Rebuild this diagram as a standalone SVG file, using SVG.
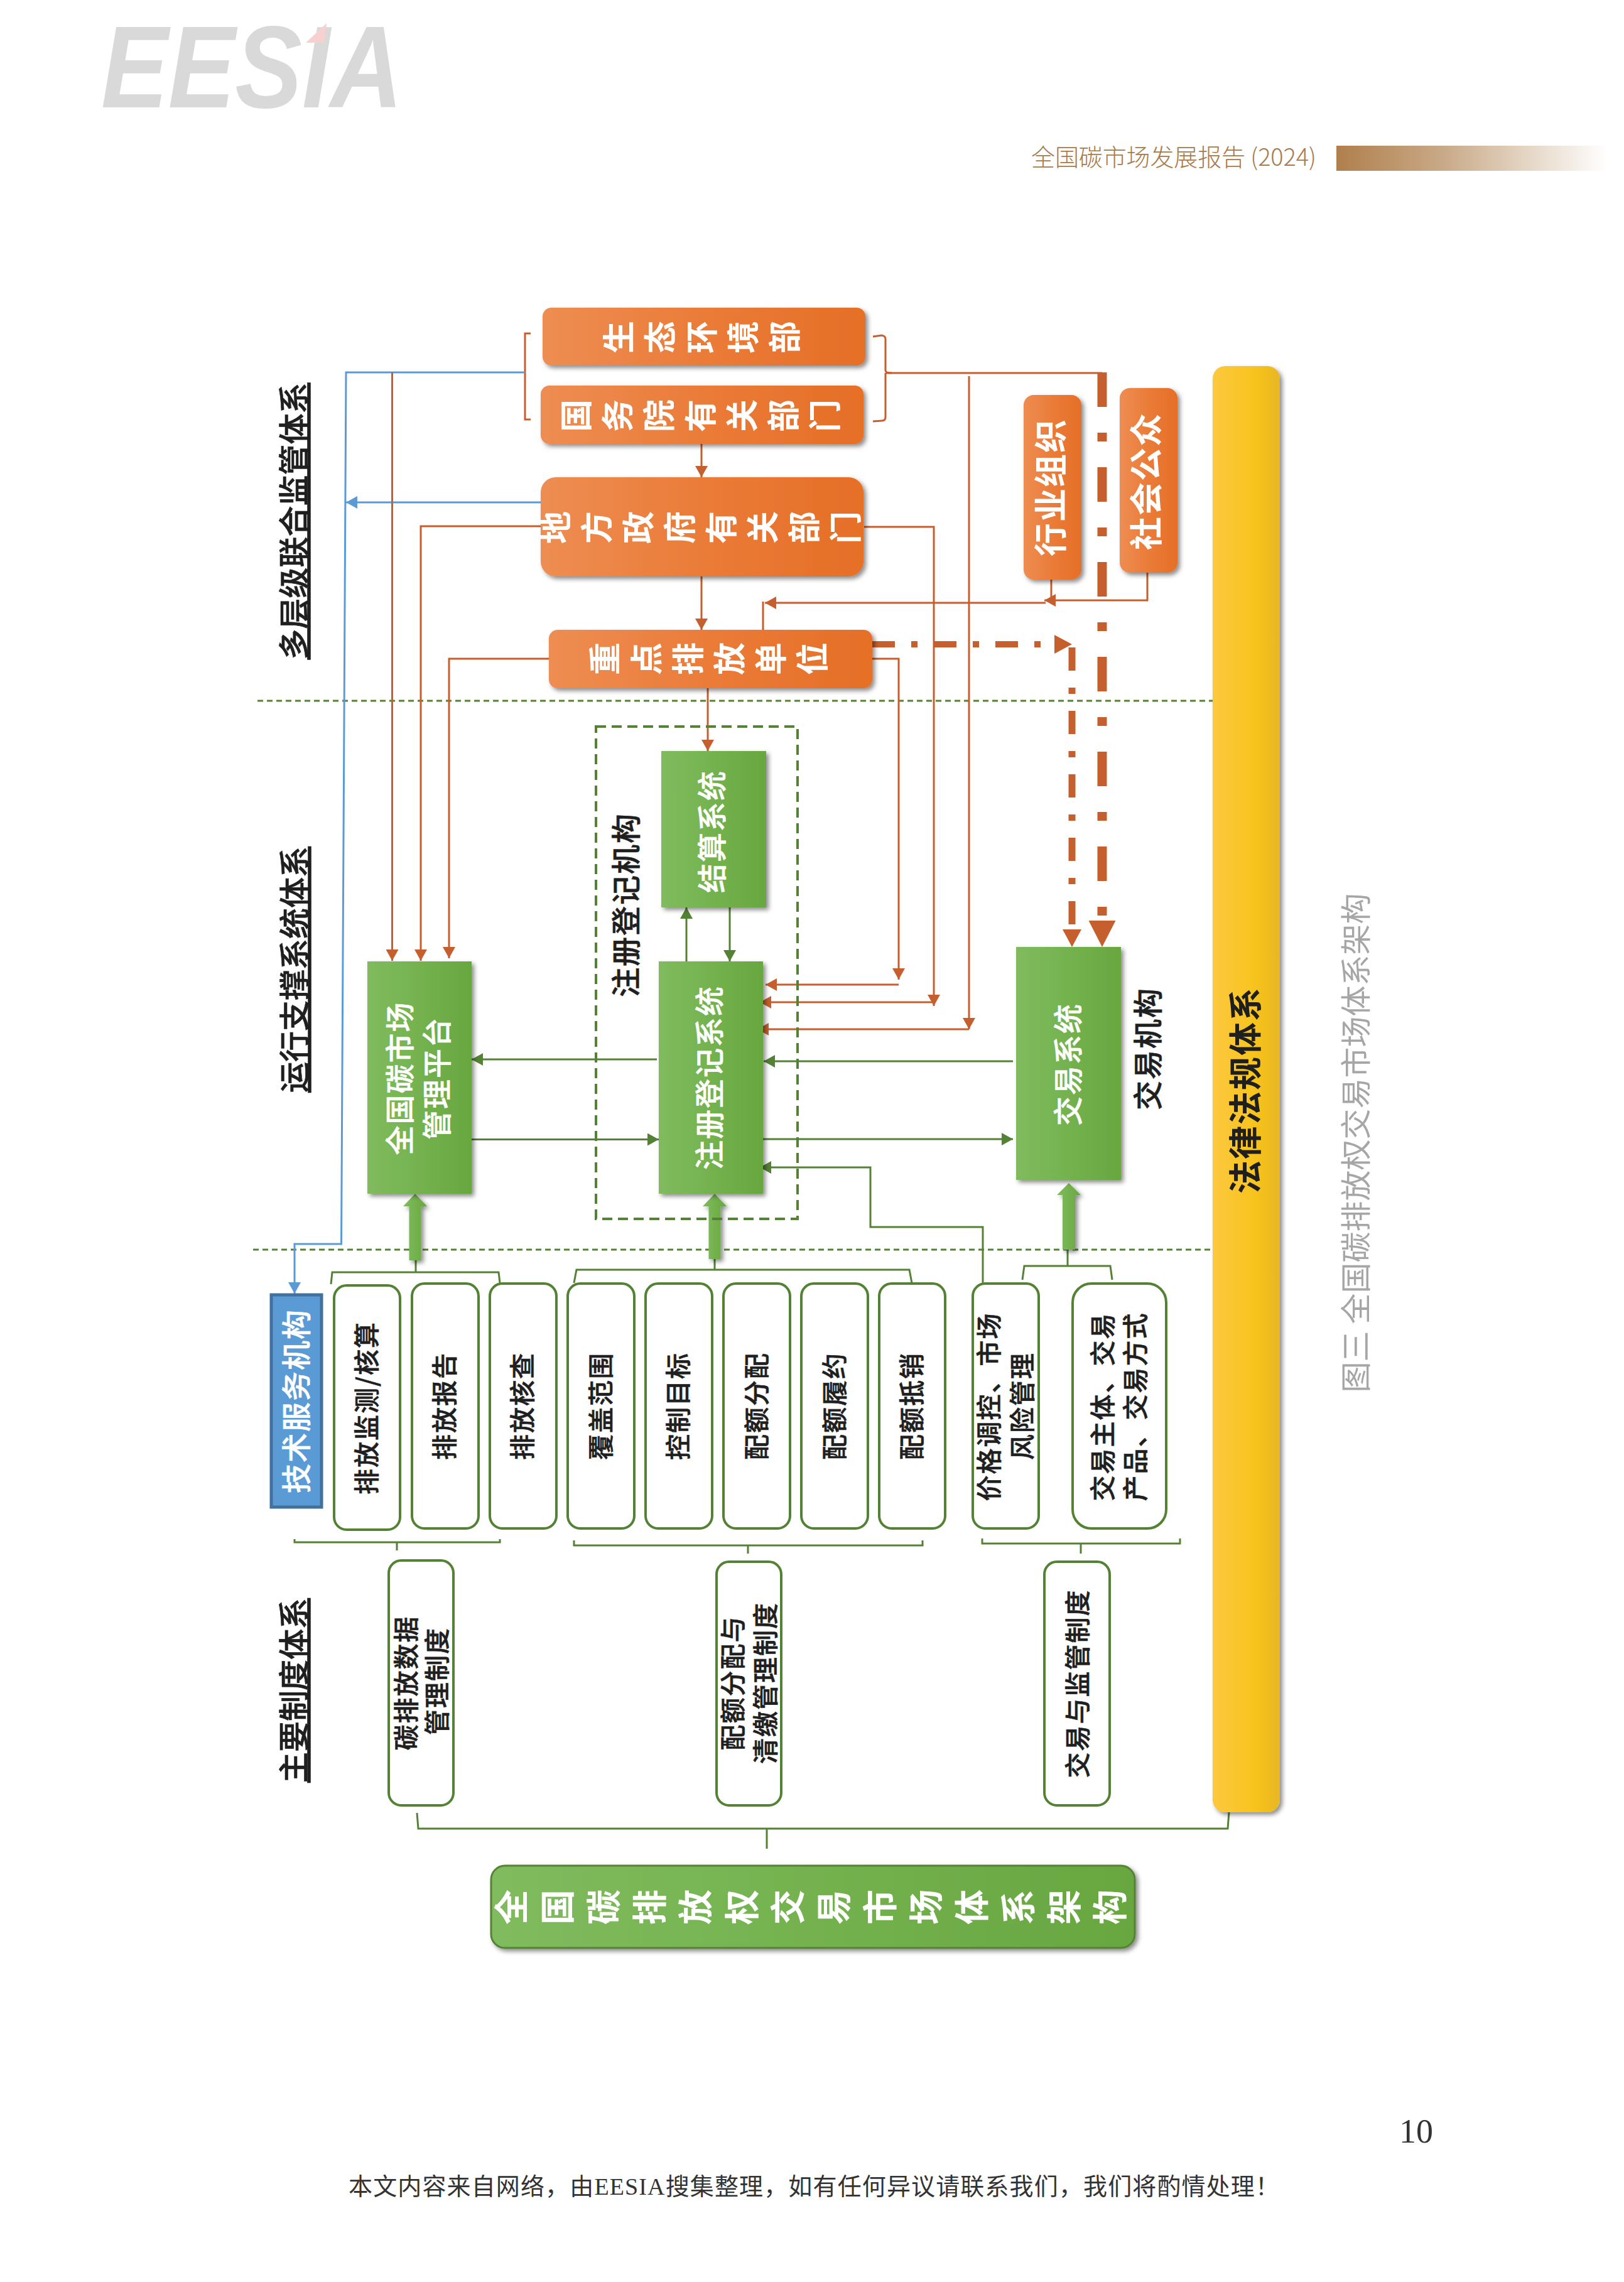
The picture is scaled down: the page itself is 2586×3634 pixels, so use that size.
<svg xmlns="http://www.w3.org/2000/svg" width="2586" height="3634" viewBox="0 0 2586 3634">
<style>
text{font-family:"Noto Sans CJK SC","Noto Sans",sans-serif}
.v{text-anchor:middle;dominant-baseline:central}
.h{font-size:49px;font-weight:500;text-decoration:underline;fill:#1f1f1f;stroke:#1f1f1f;stroke-width:.6px}
.o1{font-size:52px;font-weight:700;fill:#fff}
.o2{font-size:53px;font-weight:700;fill:#fff;letter-spacing:2px}
.g1{font-size:47px;font-weight:500;fill:#fff;letter-spacing:2px;stroke:#fff;stroke-width:.5px}
.b1{font-size:41px;font-weight:500;fill:#1f1f1f;letter-spacing:2px;stroke:#1f1f1f;stroke-width:.6px}
.l1{font-size:47px;font-weight:500;fill:#1f1f1f;letter-spacing:2px;stroke:#1f1f1f;stroke-width:.6px}
.or{fill:url(#gOrange);filter:url(#sh)}
.gr{fill:url(#gGreen);filter:url(#sh)}
.bx{fill:#fff;stroke:#548235;stroke-width:4}
.co{fill:none;stroke:#c55f2d;stroke-width:3}
.cg{fill:none;stroke:#548235;stroke-width:3}
.cb{fill:none;stroke:#5b9bd5;stroke-width:3}
.sep{fill:none;stroke:#548235;stroke-width:3;stroke-dasharray:9 6}
.tk{fill:url(#gGreen);filter:url(#sh)}
</style>
<defs>
<linearGradient id="gOrange" x1="0" y1="0" x2="1" y2="0"><stop offset="0" stop-color="#ee8d52"/><stop offset="0.55" stop-color="#ea7a36"/><stop offset="1" stop-color="#e56f27"/></linearGradient>
<linearGradient id="gGreen" x1="0" y1="0" x2="1" y2="0"><stop offset="0" stop-color="#80bb5e"/><stop offset="0.5" stop-color="#74b24f"/><stop offset="1" stop-color="#68a640"/></linearGradient>
<linearGradient id="gYellow" x1="0" y1="0" x2="1" y2="0"><stop offset="0" stop-color="#fcc83f"/><stop offset="0.6" stop-color="#f8c41f"/><stop offset="1" stop-color="#e8b720"/></linearGradient>
<linearGradient id="gBar" x1="0" y1="0" x2="1" y2="0"><stop offset="0" stop-color="#b07f4d"/><stop offset="0.4" stop-color="#c9aa88"/><stop offset="1" stop-color="#ffffff"/></linearGradient>
<filter id="sh" x="-30%" y="-10%" width="160%" height="125%"><feDropShadow dx="4" dy="4" stdDeviation="3.5" flood-color="#000" flood-opacity="0.45"/></filter>
<marker id="aO" markerUnits="userSpaceOnUse" viewBox="0 0 18 20" markerWidth="18" markerHeight="20" refX="18" refY="10" orient="auto"><path d="M0 0L18 10L0 20Z" fill="#c55f2d"/></marker>
<marker id="aG" markerUnits="userSpaceOnUse" viewBox="0 0 18 20" markerWidth="18" markerHeight="20" refX="18" refY="10" orient="auto"><path d="M0 0L18 10L0 20Z" fill="#548235"/></marker>
<marker id="aB" markerUnits="userSpaceOnUse" viewBox="0 0 18 20" markerWidth="18" markerHeight="20" refX="18" refY="10" orient="auto"><path d="M0 0L18 10L0 20Z" fill="#5b9bd5"/></marker>
<marker id="aBig" markerUnits="userSpaceOnUse" viewBox="0 0 42 43" markerWidth="42" markerHeight="43" refX="0" refY="21.5" orient="auto"><path d="M0 0L42 21.5L0 43Z" fill="#c55f2d"/></marker>
<marker id="aMid" markerUnits="userSpaceOnUse" viewBox="0 0 28 30" markerWidth="28" markerHeight="30" refX="0" refY="15" orient="auto"><path d="M0 0L28 15L0 30Z" fill="#c55f2d"/></marker>
</defs>
<rect width="2586" height="3634" fill="#fff"/>

<g id="header">
<text x="161" y="171" font-size="186" font-weight="700" font-style="italic" textLength="480" lengthAdjust="spacingAndGlyphs" style="font-family:'Liberation Sans',sans-serif" fill="#d9d9d9">EESIA</text>
<path d="M520 37L516 68L487 68Z" fill="#f8d0d0"/>
<text x="1642" y="264" font-size="38" textLength="454" fill="#a9794a" font-weight="300">全国碳市场发展报告 (2024)</text>
<rect x="2128" y="232" width="430" height="40" fill="url(#gBar)"/>
</g>

<g id="connectors">
<path class="sep" d="M410 1116H1931"/>
<path class="sep" d="M403 1990H1927"/>
<path class="co" d="M845 531H836V668H845"/>
<path class="co" d="M1390 536L1404 534Q1410 535 1410 540V590Q1410 594 1420 594M1410 594Q1410 598 1410 602V664Q1410 670 1404 670L1390 671"/>
<path class="cb" d="M836 593H551L543.500 1981H469V2060" marker-end="url(#aB)"/>
<path class="cb" d="M861 800H551" marker-end="url(#aB)"/>
<path class="co" d="M624.500 593V1530" marker-end="url(#aO)"/>
<path class="co" d="M861 838H670V1530" marker-end="url(#aO)"/>
<path class="co" d="M874 1049H715V1526" marker-end="url(#aO)"/>
<path class="co" d="M1117 707V760" marker-end="url(#aO)"/>
<path class="co" d="M1117 918V1003" marker-end="url(#aO)"/>
<path class="co" d="M1127 1096V1196" marker-end="url(#aO)"/>
<path class="co" d="M1215 958V1028" marker-end="url(#aO)"/>
<path class="co" d="M1665 960H1218" marker-end="url(#aO)"/>
<path class="co" d="M1827 912V956H1663" marker-end="url(#aO)"/>
<path class="co" d="M1674 922V956"/>
<path class="co" d="M1389 1049H1431V1560" marker-end="url(#aO)"/>
<path class="co" d="M1431 1568H1219" marker-end="url(#aO)"/>
<path class="co" d="M1376 839H1487V1602" marker-end="url(#aO)"/>
<path class="co" d="M1487 1596H1210" marker-end="url(#aO)"/>
<path class="co" d="M1410 594H1755"/>
<path class="co" d="M1543 599V1639" marker-end="url(#aO)"/>
<path class="co" d="M1543 1639H1206" marker-end="url(#aO)"/>
<path fill="none" stroke="#c55f2d" stroke-width="15" stroke-dasharray="55 41 14 41" d="M1755 593V1466" marker-end="url(#aBig)"/>
<path fill="none" stroke="#c55f2d" stroke-width="10" stroke-dasharray="36 26 10 26" d="M1389 1026H1679" marker-end="url(#aMid)"/>
<path fill="none" stroke="#c55f2d" stroke-width="11" stroke-dasharray="37 27 10 27" d="M1707 1031V1480" marker-end="url(#aMid)"/>
<path class="cg" d="M1093 1531V1445" marker-end="url(#aG)"/>
<path class="cg" d="M1162 1445V1531" marker-end="url(#aG)"/>
<path class="cg" d="M1046 1687H751" marker-end="url(#aG)"/>
<path class="cg" d="M751 1814.500H1049" marker-end="url(#aG)"/>
<path class="cg" d="M1613 1690H1216" marker-end="url(#aG)"/>
<path class="cg" d="M1215 1814H1613" marker-end="url(#aG)"/>
<path class="cg" d="M1565 2043V1954H1386V1859H1210" marker-end="url(#aG)"/>
<path class="cg" d="M527 2045L529 2026H794L796 2043M662 2026V2007"/>
<path class="cg" d="M914 2043L918 2022H1448L1452 2043M1138 2022V2000"/>
<path class="cg" d="M1628 2038L1631 2016H1768L1771 2038M1700 2016V1990"/>
<path class="cg" d="M469 2451V2456H796V2451M632 2456V2469"/>
<path class="cg" d="M914 2453V2461H1469V2453M1191 2461V2474"/>
<path class="cg" d="M1564 2450V2458H1879V2450M1721 2458V2474"/>
<path class="cg" d="M664 2887L666 2912H1955L1957 2886M1221 2912V2944"/>
<path class="tk" d="M661 1901L680 1921H670.500V2007H651.500V1921H642Z"/>
<path class="tk" d="M1138 1901L1157 1921H1147.500V2005H1128.500V1921H1119Z"/>
<path class="tk" d="M1702 1884L1721 1903H1712V1990H1692V1903H1683Z"/>
</g>

<g id="node-mee"><rect class="or" x="864" y="490" width="514" height="92" rx="14"/><text class="o1" x="1005 1071 1137 1203 1269" y="563" rotate="-90">生态环境部</text></g>
<g id="node-state"><rect class="or" x="861" y="614" width="514" height="93" rx="14"/><text class="o1" x="937 1003 1069 1135 1201 1267 1333" y="688" rotate="-90">国务院有关部门</text></g>
<g id="node-local"><rect class="or" x="861" y="760" width="514" height="158" rx="24"/><text class="o1" x="904 970 1036 1102 1168 1234 1300 1366" y="866" rotate="-90">地方政府有关部门</text></g>
<g id="node-key"><rect class="or" x="874" y="1003" width="515" height="93" rx="14"/><text class="o1" x="983 1049 1115 1181 1247 1313" y="1075" rotate="-90">重点排放单位</text></g>
<g id="node-industry"><rect class="or" x="1630" y="629" width="92" height="294" rx="16"/><text class="o2 v" transform="translate(1670 776) rotate(-90)">行业组织</text></g>
<g id="node-public"><rect class="or" x="1783" y="618" width="92" height="294" rx="16"/><text class="o2 v" transform="translate(1822 766) rotate(-90)">社会公众</text></g>
<g id="node-law"><rect x="1931" y="583" width="107" height="2303" rx="20" fill="url(#gYellow)" filter="url(#sh)"/><text class="v" font-size="53" font-weight="700" letter-spacing="2" fill="#1f1f1f" transform="translate(1980 1736) rotate(-90)">法律法规体系</text></g>

<g id="node-registry-org"><rect x="949" y="1157" width="321" height="784" fill="none" stroke="#548235" stroke-width="4" stroke-dasharray="16 9"/><text class="l1 v" transform="translate(993 1441) rotate(-90)">注册登记机构</text></g>
<g id="node-platform"><rect class="gr" x="585" y="1531" width="166" height="370"/><text class="g1 v" transform="translate(633 1717) rotate(-90)">全国碳市场</text><text class="g1 v" transform="translate(692 1717) rotate(-90)">管理平台</text></g>
<g id="node-settle"><rect class="gr" x="1053" y="1196" width="167" height="249"/><text class="g1 v" transform="translate(1130 1324) rotate(-90)">结算系统</text></g>
<g id="node-registry"><rect class="gr" x="1049" y="1531" width="166" height="370"/><text class="g1 v" transform="translate(1126 1716) rotate(-90)">注册登记系统</text></g>
<g id="node-trade"><rect class="gr" x="1618" y="1508" width="167" height="371"/><text class="g1 v" transform="translate(1697 1695) rotate(-90)">交易系统</text></g>
<g id="label-trade-org"><text class="l1 v" transform="translate(1824 1670) rotate(-90)">交易机构</text></g>

<g id="label-h1"><text class="h v" transform="translate(464 830) rotate(-90)">多层级联合监管体系</text></g>
<g id="label-h2"><text class="h v" transform="translate(465 1544) rotate(-90)">运行支撑系统体系</text></g>
<g id="label-h3"><text class="h v" transform="translate(464 2692) rotate(-90)">主要制度体系</text></g>

<g id="node-tech"><rect x="432" y="2062" width="80" height="338" fill="#5b9bd5" stroke="#41719c" stroke-width="5"/><text class="g1 v" transform="translate(468 2231) rotate(-90)">技术服务机构</text></g>
<g id="node-i1"><rect class="bx" x="532" y="2047" width="105" height="389" rx="20"/><text class="b1 v" transform="translate(581 2242) rotate(-90)">排放监测/核算</text></g>
<g id="node-i2"><rect class="bx" x="656" y="2044" width="106" height="390" rx="20"/><text class="b1 v" transform="translate(705 2239) rotate(-90)">排放报告</text></g>
<g id="node-i3"><rect class="bx" x="780" y="2044" width="106" height="390" rx="20"/><text class="b1 v" transform="translate(829 2239) rotate(-90)">排放核查</text></g>
<g id="node-i4"><rect class="bx" x="904" y="2044" width="106" height="390" rx="20"/><text class="b1 v" transform="translate(954 2239) rotate(-90)">覆盖范围</text></g>
<g id="node-i5"><rect class="bx" x="1028" y="2044" width="106" height="390" rx="20"/><text class="b1 v" transform="translate(1077 2239) rotate(-90)">控制目标</text></g>
<g id="node-i6"><rect class="bx" x="1152" y="2044" width="106" height="390" rx="20"/><text class="b1 v" transform="translate(1202 2239) rotate(-90)">配额分配</text></g>
<g id="node-i7"><rect class="bx" x="1276" y="2044" width="106" height="390" rx="20"/><text class="b1 v" transform="translate(1326 2239) rotate(-90)">配额履约</text></g>
<g id="node-i8"><rect class="bx" x="1400" y="2044" width="105" height="390" rx="20"/><text class="b1 v" transform="translate(1449 2239) rotate(-90)">配额抵销</text></g>
<g id="node-i9"><rect class="bx" x="1549" y="2044" width="105" height="390" rx="20"/><text class="b1 v" transform="translate(1572 2240) rotate(-90)">价格调控、市场</text><text class="b1 v" transform="translate(1625 2239) rotate(-90)">风险管理</text></g>
<g id="node-i10"><rect class="bx" x="1708" y="2044" width="149" height="390" rx="30"/><text class="b1 v" transform="translate(1753 2240) rotate(-90)">交易主体、交易</text><text class="b1 v" transform="translate(1805 2240) rotate(-90)">产品、交易方式</text></g>

<g id="node-s1"><rect class="bx" x="619" y="2485" width="103" height="390" rx="20"/><text class="b1 v" transform="translate(644 2680) rotate(-90)">碳排放数据</text><text class="b1 v" transform="translate(693 2677) rotate(-90)">管理制度</text></g>
<g id="node-s2"><rect class="bx" x="1141" y="2487" width="103" height="388" rx="20"/><text class="b1 v" transform="translate(1164 2680) rotate(-90)">配额分配与</text><text class="b1 v" transform="translate(1216 2680) rotate(-90)">清缴管理制度</text></g>
<g id="node-s3"><rect class="bx" x="1663" y="2487" width="104" height="388" rx="20"/><text class="b1 v" transform="translate(1713 2681) rotate(-90)">交易与监管制度</text></g>

<g id="node-root"><rect x="782" y="2971" width="1025" height="131" rx="22" fill="url(#gGreen)" stroke="#548235" stroke-width="3" filter="url(#sh)"/><text font-size="56" font-weight="700" fill="#fff" x="835 908 982 1055 1128 1202 1275 1348 1422 1495 1568 1642 1715 1788" y="3065" rotate="-90">全国碳排放权交易市场体系架构</text></g>

<g id="caption"><text class="v" font-size="49" fill="#a6a6a6" transform="translate(2155 1820) rotate(-90)">图三 全国碳排放权交易市场体系架构</text></g>
<g id="footer">
<text x="2228" y="3412" font-size="54" fill="#333" style="font-family:'Liberation Serif',serif">10</text>
<text x="555" y="3495" font-size="38" textLength="1482" fill="#333" style="font-family:'Liberation Serif','Noto Sans CJK SC',serif">本文内容来自网络，由EESIA搜集整理，如有任何异议请联系我们，我们将酌情处理！</text>
</g>
</svg>
